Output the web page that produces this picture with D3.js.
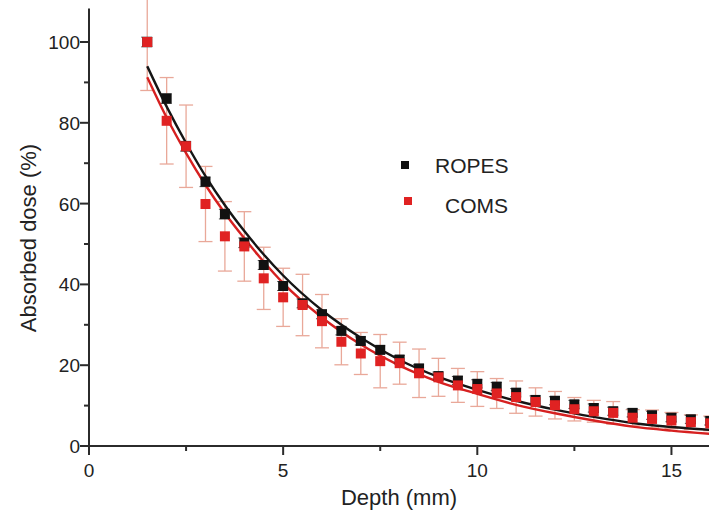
<!DOCTYPE html>
<html>
<head>
<meta charset="utf-8">
<script src="https://cdn.jsdelivr.net/npm/d3@7"></script>
<style>
  html, body { margin: 0; padding: 0; background: #fff; }
  svg { display: block; }
  text { font-family: "Liberation Sans", Arial, sans-serif; fill: #222; }
</style>
</head>
<body>
<svg id="chart" width="709" height="517"></svg>
<script>
// ---- data ----
const depths = [1.5,2,2.5,3,3.5,4,4.5,5,5.5,6,6.5,7,7.5,8,8.5,9,9.5,10,10.5,11,11.5,12,12.5,13,13.5,14,14.5,15,15.5,16];
const ropesDose = [100,86,74.2,65.4,57.4,50.3,44.8,39.6,35.3,32.6,28.5,26,23.8,21.4,19.2,17.3,16.2,15.4,14.7,13.2,11.4,11.2,10.3,9.4,8.6,8.2,7.6,7.0,6.6,6.2];
const ropesErr  = [1.2,1.2,1.2,1.2,1.2,1.2,1.1,1.1,1.1,1.1,1,1,1,1,1,1,1,1,1,1,1,1,1,1,1,1,1,1,1,1];
const comsDose  = [100,80.5,74.2,59.9,51.9,49.4,41.5,36.8,34.9,30.9,25.8,22.9,21.0,20.5,18.0,17.0,15.0,14.1,13.0,12.1,10.9,10.1,9.1,8.6,8.2,7.0,6.7,6.3,5.9,5.6];
const comsErr   = [12,10.7,10.2,9.3,8.6,8.6,7.7,7.2,7.6,6.6,5.7,5.2,6.6,5.2,6,4.7,4.2,4.3,3.7,4,3.5,3.4,2.9,2.7,2.8,2.0,2.2,2.0,1.8,1.8];
// fitted curves
const fitX      = [1.5,2,2.5,3,3.5,4,4.5,5,6,7,8,9,10,11,12,13,14,15,16];
const ropesFit  = [94,84,75,66.8,59.6,53.2,47.4,42.2,33.6,26.8,21.3,17.1,13.9,11.2,9,7.2,5.7,4.7,4];
const comsFit   = [91.3,81.3,72.5,64.6,57.6,51.4,45.6,40.3,31.8,25.1,19.9,15.9,12.9,10.2,8.1,6.3,4.8,3.8,3];
const xTicks = [0,5,10,15];
const xMinor = [2.5,7.5,12.5];
const yTicks = [0,20,40,60,80,100];
const yMinor = [10,30,50,70,90];
const seriesNames = ["ROPES","COMS"];

// ---- layout ----
const svg = d3.select("#chart");
const x = d3.scaleLinear().domain([0,16]).range([89, 89 + 16*38.83]);
const y = d3.scaleLinear().domain([0,100]).range([446, 42]);
const yTop = 108.3;
const axisColor = "#2b2b2b";
const red = "#e02222";
const errRed = "#e9a899";

// error bars COMS
const gErr = svg.append("g");
depths.forEach((d,i) => {
  const cx = x(d), y1 = y(comsDose[i]+comsErr[i]), y2 = y(comsDose[i]-comsErr[i]);
  gErr.append("line").attr("x1",cx).attr("x2",cx).attr("y1",y1).attr("y2",y2).attr("stroke",errRed).attr("stroke-width",1.3);
  [y1,y2].forEach(yy => gErr.append("line").attr("x1",cx-7).attr("x2",cx+7).attr("y1",yy).attr("y2",yy).attr("stroke",errRed).attr("stroke-width",1.3));
});
// error bars ROPES
depths.forEach((d,i) => {
  const cx = x(d), y1 = y(ropesDose[i]+ropesErr[i]), y2 = y(ropesDose[i]-ropesErr[i]);
  [y1,y2].forEach(yy => gErr.append("line").attr("x1",cx-6).attr("x2",cx+5).attr("y1",yy).attr("y2",yy).attr("stroke","#555").attr("stroke-width",1));
});

// fit curves
const line = d3.line().x(d => x(d[0])).y(d => y(d[1])).curve(d3.curveMonotoneX);
svg.append("path").datum(fitX.map((v,i)=>[v,comsFit[i]])).attr("d",line).attr("fill","none").attr("stroke","#d62020").attr("stroke-width",2.4);
svg.append("path").datum(fitX.map((v,i)=>[v,ropesFit[i]])).attr("d",line).attr("fill","none").attr("stroke","#151515").attr("stroke-width",2.4);

// markers
const ms = 10;
svg.append("g").selectAll("rect").data(depths).join("rect")
  .attr("x", d => x(d)-ms/2).attr("y", (d,i) => y(ropesDose[i])-ms/2)
  .attr("width", ms).attr("height", ms).attr("fill", "#111");
svg.append("g").selectAll("rect").data(depths).join("rect")
  .attr("x", d => x(d)-ms/2).attr("y", (d,i) => y(comsDose[i])-ms/2)
  .attr("width", ms).attr("height", ms).attr("fill", red);

// axes
const ax = svg.append("g");
ax.append("line").attr("x1",x(0)).attr("x2",709).attr("y1",y(0)).attr("y2",y(0)).attr("stroke",axisColor).attr("stroke-width",2);
ax.append("line").attr("x1",x(0)).attr("x2",x(0)).attr("y1",y(0)+9).attr("y2",y(yTop)).attr("stroke",axisColor).attr("stroke-width",2);
xTicks.forEach(t => {
  ax.append("line").attr("x1",x(t)).attr("x2",x(t)).attr("y1",y(0)).attr("y2",y(0)+9).attr("stroke",axisColor).attr("stroke-width",2);
  ax.append("text").attr("x",x(t)).attr("y",y(0)+31).attr("text-anchor","middle").style("font-size","19px").text(t);
});
xMinor.forEach(t => ax.append("line").attr("x1",x(t)).attr("x2",x(t)).attr("y1",y(0)).attr("y2",y(0)+5).attr("stroke",axisColor).attr("stroke-width",2));
yTicks.forEach(t => {
  ax.append("line").attr("x1",x(0)-9).attr("x2",x(0)).attr("y1",y(t)).attr("y2",y(t)).attr("stroke",axisColor).attr("stroke-width",2);
  ax.append("text").attr("x",x(0)-9).attr("y",y(t)+7).attr("text-anchor","end").style("font-size","19px").text(t);
});
yMinor.forEach(t => ax.append("line").attr("x1",x(0)-5).attr("x2",x(0)).attr("y1",y(t)).attr("y2",y(t)).attr("stroke",axisColor).attr("stroke-width",2));

// axis titles
svg.append("text").attr("x",399).attr("y",505).attr("text-anchor","middle").style("font-size","22px").text("Depth (mm)");
svg.append("text").attr("transform","translate(36,238) rotate(-90)").attr("text-anchor","middle").style("font-size","22px").text("Absorbed dose (%)");

// legend
const lg = svg.append("g");
lg.append("rect").attr("x",401).attr("y",161).attr("width",8).attr("height",8).attr("fill","#111");
lg.append("text").attr("x",435).attr("y",173).style("font-size","21px").text(seriesNames[0]);
lg.append("rect").attr("x",404).attr("y",197).attr("width",8).attr("height",8).attr("fill",red);
lg.append("text").attr("x",445).attr("y",213).style("font-size","21px").text(seriesNames[1]);
</script>
</body>
</html>
